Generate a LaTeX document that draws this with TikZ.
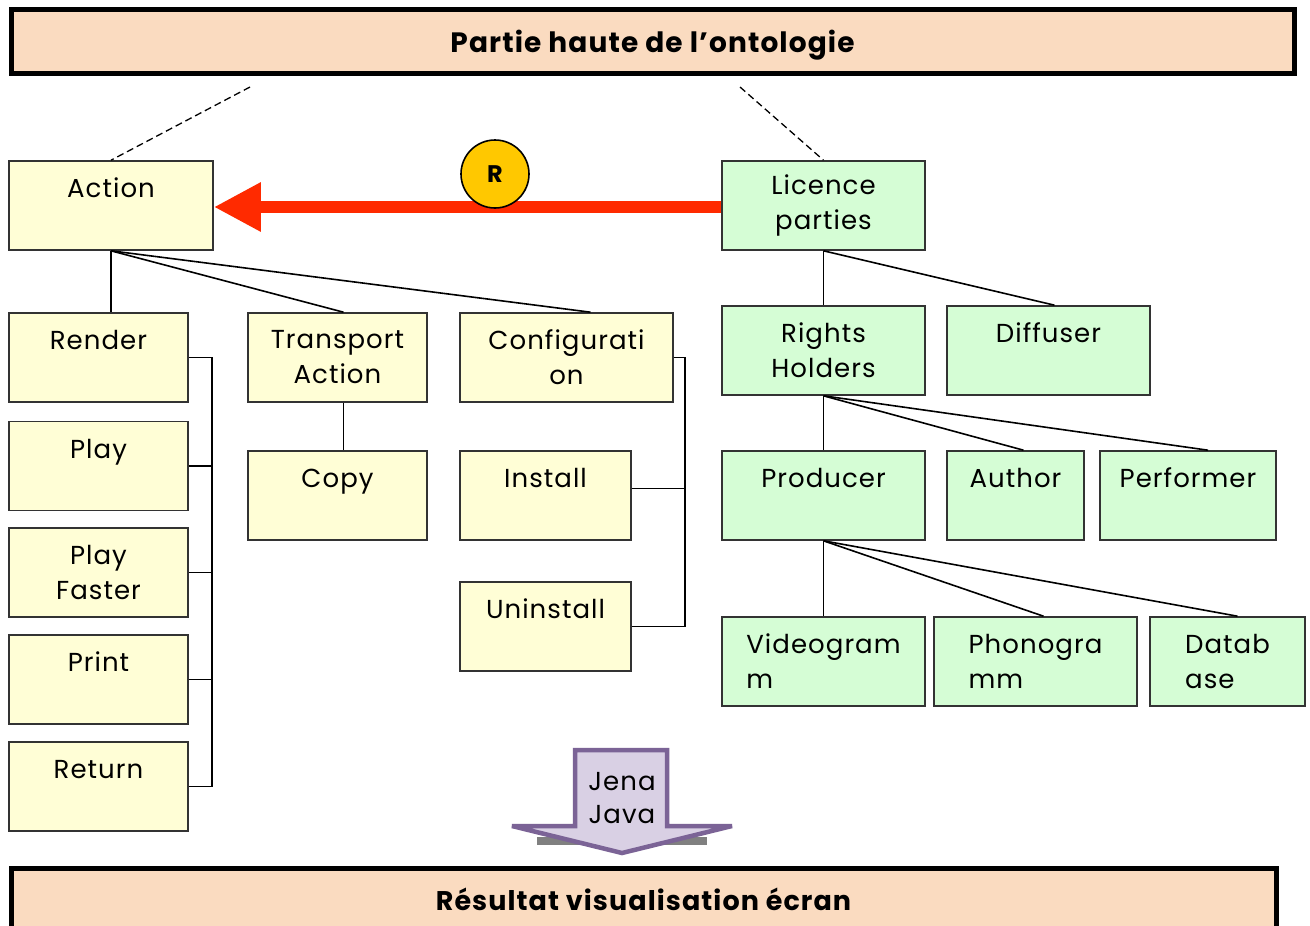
\documentclass[tikz,border=0pt]{standalone}
\usepackage{fontspec}
\setmainfont{Poppins}[LetterSpace=4]
\usetikzlibrary{arrows.meta}
\definecolor{yelfill}{HTML}{FFFED6}
\definecolor{grnfill}{HTML}{D5FDD5}
\definecolor{bandfill}{HTML}{FADBC0}
\definecolor{relred}{HTML}{FF2A00}
\definecolor{relgold}{HTML}{FFC800}
\definecolor{jenafill}{HTML}{D9D0E4}
\definecolor{jenaline}{HTML}{7B6396}

\begin{document}
\begin{tikzpicture}[x=1pt,y=-1pt,
    box/.style={draw=black!80, line width=1.6pt, minimum height=89pt, inner sep=0pt,
      align=center, font=\fontsize{26}{35}\selectfont},
    yel/.style={box, fill=yelfill},
    grn/.style={box, fill=grnfill},
    band/.style={draw=black, line width=5pt, fill=bandfill, inner sep=0pt,
      font=\bfseries\fontsize{28}{30}\selectfont},
    link/.style={line width=1.6pt},
    relarrow/.style={draw=relred, line width=12pt, -{Triangle[length=47pt,width=46pt]}}]
  \clip (0,0) rectangle (1310,926);
  \fill[white] (0,0) rectangle (1310,926);

  % bandeaux
  \node[band, minimum width=1283, minimum height=64, text height=28pt, text depth=7pt] (haut) at (652.5,41.5) {Partie haute de l’ontologie};
  \node[band, minimum width=1265, minimum height=62] (bas) at (643.5,899) {\fontsize{27}{30}\selectfont Résultat visualisation écran};

  % actions
  \node[yel, minimum width=204] (action) at (111,205.5) {Action\\~};
  \node[yel, minimum width=179] (render) at (98.5,357.5) {Render\\~};
  \node[yel, minimum width=179] (play) at (98.5,466) {Play\\~};
  \node[yel, minimum width=179] (faster) at (98.5,572.5) {Play\\Faster};
  \node[yel, minimum width=179] (print) at (98.5,679.5) {Print\\~};
  \node[yel, minimum width=179] (return) at (98.5,786.5) {Return\\~};
  \node[yel, minimum width=179] (transport) at (337.5,357.5) {Transport\\Action};
  \node[yel, minimum width=179] (copy) at (337.5,495.5) {Copy\\~};
  \node[yel, minimum width=213] (config) at (566.5,357.5) {Configurati\\on};
  \node[yel, minimum width=171] (install) at (545.5,495.5) {Install\\~};
  \node[yel, minimum width=171] (uninstall) at (545.5,626.5) {Uninstall\\~};

  % licences
  \node[grn, minimum width=203] (licence) at (823.5,205.5) {Licence\\parties};
  \node[grn, minimum width=203] (rights) at (823.5,350.5) {Rights\\Holders};
  \node[grn, minimum width=203] (diffuser) at (1048.5,350.5) {Diffuser\\~};
  \node[grn, minimum width=203] (producer) at (823.5,495.5) {Producer\\~};
  \node[grn, minimum width=137] (author) at (1015.5,495.5) {Author\\~};
  \node[grn, minimum width=176] (performer) at (1188,495.5) {Performer\\~};
  \node[grn, minimum width=203, align=left] (video) at (823.5,661.5) {Videogram\\m};
  \node[grn, minimum width=203, align=left] (phono) at (1035.5,661.5) {Phonogra\\mm};
  \node[grn, minimum width=155, align=left] (datab) at (1227.5,661.5) {Datab\\ase};

  % liens vers la partie haute
  \coordinate (hautg) at (250,87);
  \coordinate (hautd) at (740,87);
  \draw[dash pattern=on 7pt off 4pt, line width=1.3pt] (hautg) -- (action.north);
  \draw[dash pattern=on 7pt off 4pt, line width=1.3pt] (hautd) -- (licence.north);

  % arbre des actions
  \draw[link] (action.south) -- (action.south |- render.north);
  \draw[link] (action.south) -- ([xshift=6pt]transport.north);
  \draw[link] (action.south) -- ([xshift=24pt]config.north);
  \draw[link] ([xshift=6pt]transport.south) -- ([xshift=6pt]copy.north);
  \coordinate (lbus) at (212,0);
  \draw[link] (render.east) -- (render.east -| lbus) -- (return.east -| lbus) -- (return.east);
  \draw[link] (play.east) -- (play.east -| lbus);
  \draw[link] (faster.east) -- (faster.east -| lbus);
  \draw[link] (print.east) -- (print.east -| lbus);
  \coordinate (rbus) at (685,0);
  \draw[link] (config.east) -- (config.east -| rbus) -- (uninstall.east -| rbus) -- (uninstall.east);
  \draw[link] ([yshift=7pt]install.east) -- ([yshift=7pt]install.east -| rbus);

  % arbre des licences
  \draw[link] (licence.south) -- (rights.north);
  \draw[link] (licence.south) -- ([xshift=6pt]diffuser.north);
  \draw[link] (rights.south) -- (producer.north);
  \draw[link] (rights.south) -- ([xshift=8pt]author.north);
  \draw[link] (rights.south) -- ([xshift=20pt]performer.north);
  \draw[link] (producer.south) -- (video.north);
  \draw[link] (producer.south) -- ([xshift=8pt]phono.north);
  \draw[link] (producer.south) -- ([xshift=10pt]datab.north);

  % relation R
  \draw[relarrow] ([yshift=-1.5pt]licence.west) -- ([yshift=-1.5pt]action.east);
  \node[circle, draw=black, line width=1.6pt, fill=relgold, minimum size=68pt, inner sep=0pt,
    font=\bfseries\fontsize{24}{24}\selectfont] (r) at (495,174) {R};

  % fleche Jena
  \fill[gray] (537,837) -- (707,837) -- (707,845) -- (537,845) -- cycle;
  \draw[jenaline, fill=jenafill, line width=4.5pt, line join=miter, miter limit=3]
    (575,750) -- (667,750) -- (667,826) -- (732,826) -- (622,853) -- (512,826) -- (575,826) -- cycle;
  \node[align=center, inner sep=0pt, font=\fontsize{26}{33}\selectfont] (jena) at (622,798) {Jena\\Java};
\end{tikzpicture}
\end{document}
